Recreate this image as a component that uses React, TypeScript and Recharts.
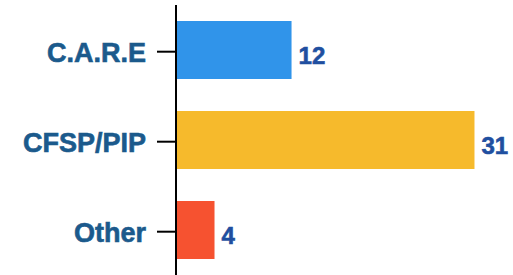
import { BarChart, Bar, XAxis, YAxis, Cell, LabelList } from 'recharts';

// programs and counts
const categories = ['C.A.R.E', 'CFSP/PIP', 'Other'];
const counts = [12, 31, 4];
const barColors = ['#3094EA', '#F6BA2C', '#F65230'];

const data = categories.map((name, i) => ({ name, count: counts[i] }));

const FONT = '"Liberation Sans", Arial, sans-serif';

function CategoryTick(props: any) {
  const { x, y, payload } = props;
  return (
    <g>
      <line x1={x - 19} x2={x} y1={y + 1.7} y2={y + 1.7} stroke="#000" strokeWidth={2} />
      <text
        x={x - 30}
        y={y + 12}
        textAnchor="end"
        fill="#1B5A8C"
        stroke="#1B5A8C"
        strokeWidth={0.6}
        fontSize={27}
        fontWeight={700}
        fontFamily={FONT}
      >
        {payload.value}
      </text>
    </g>
  );
}

function ValueLabel(props: any) {
  const { x, y, width, height, value } = props;
  return (
    <text
      x={x + width + 7}
      y={y + height / 2 + 13.5}
      fill="#1F4FA0"
      stroke="#1F4FA0"
      strokeWidth={0.6}
      fontSize={24}
      fontWeight={700}
      fontFamily={FONT}
    >
      {value}
    </text>
  );
}

export default function App() {
  return (
    <div style={{ position: 'absolute', left: 0, top: 0, background: '#fff' }}>
      <BarChart
        width={513}
        height={275}
        data={data}
        layout="vertical"
        margin={{ top: 5, right: 0, bottom: 0, left: 0 }}
        barCategoryGap={32}
      >
        <XAxis type="number" domain={[0, 35]} hide />
        <YAxis
          type="category"
          dataKey="name"
          width={176}
          axisLine={{ stroke: '#000', strokeWidth: 2 }}
          tickLine={false}
          tickSize={0}
          tickMargin={0}
          tick={<CategoryTick />}
          interval={0}
        />
        <Bar dataKey="count" barSize={58} isAnimationActive={false}>
          {data.map((d, i) => (
            <Cell key={d.name} fill={barColors[i]} />
          ))}
          <LabelList dataKey="count" content={<ValueLabel />} />
        </Bar>
      </BarChart>
    </div>
  );
}
